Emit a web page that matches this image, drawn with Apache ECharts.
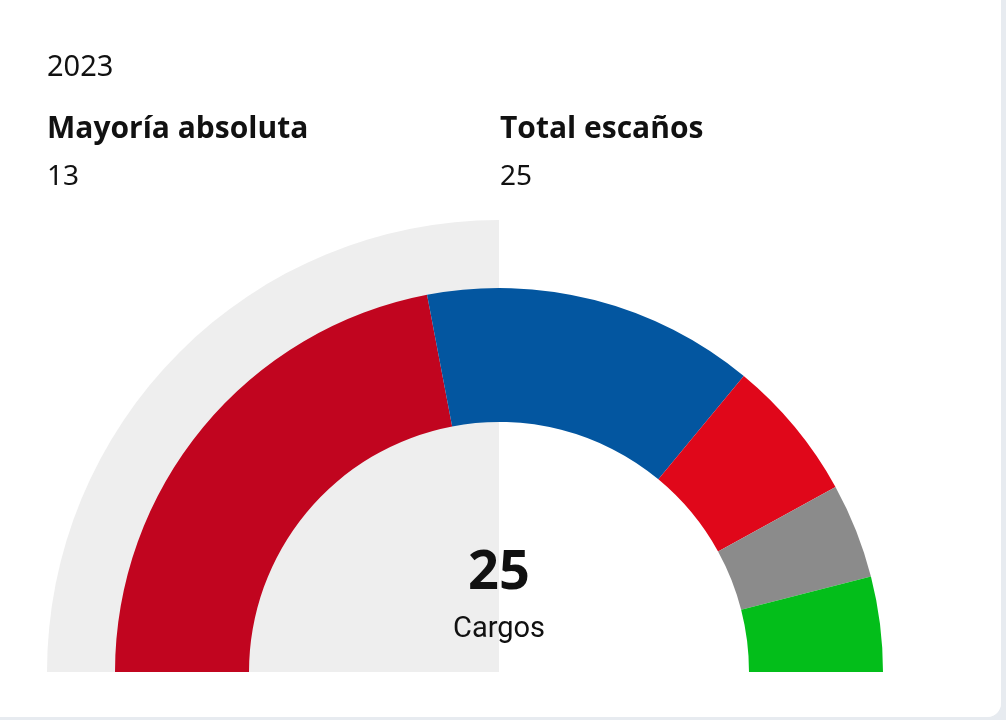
<!DOCTYPE html>
<html>
<head>
<meta charset="utf-8">
<script src="https://cdn.jsdelivr.net/npm/echarts@6/dist/echarts.min.js"></script>
<style>
html,body{margin:0;padding:0;background:#e7ebf0;}
#wrap{position:relative;width:1006px;height:720px;background:#e7ebf0;}
#chart{position:absolute;left:0;top:0;width:1001px;height:717px;background:#ffffff;border-radius:0 0 14px 0;overflow:hidden;}
</style>
</head>
<body>
<div id="wrap"><div id="chart"></div></div>
<script>
// Data
const year = '2023';
const parties = ['Partido 1', 'Partido 2', 'Partido 3', 'Partido 4', 'Partido 5'];
const seats = [11, 7, 3, 2, 2];
const partyColors = ['#c1051f', '#0356a0', '#e0071a', '#8b8b8b', '#03be1a'];
const majority = 13;
const totalSeats = 25;
const centerLabel = 'Cargos';

const chart = echarts.init(document.getElementById('chart'), null, {renderer: 'canvas'});

const cx = 499, cy = 672;

const option = {
  animation: false,
  backgroundColor: '#ffffff',
  series: [
    {
      type: 'pie',
      silent: true,
      center: [cx, cy],
      radius: [0, 452],
      startAngle: 180,
      endAngle: 90,
      clockwise: true,
      label: {show: false},
      labelLine: {show: false},
      itemStyle: {color: '#eeeeee'},
      data: [{name: 'mitad', value: 1}],
      z: 1
    },
    {
      type: 'pie',
      center: [cx, cy],
      radius: [250, 384],
      startAngle: 180,
      endAngle: 0,
      clockwise: true,
      minAngle: 0,
      label: {show: false},
      labelLine: {show: false},
      emphasis: {disabled: true},
      itemStyle: {borderWidth: 0},
      data: parties.map((p, i) => ({name: p, value: seats[i], itemStyle: {color: partyColors[i]}})),
      z: 2
    }
  ],
  graphic: [
    {type: 'text', x: 47, y: 68, z: 10, style: {text: year, font: '400 29px "Noto Sans"', fill: '#111', align: 'left', verticalAlign: 'middle'}},
    {type: 'text', x: 47, y: 129, z: 10, style: {text: 'Mayoría absoluta', font: '700 30px "Open Sans"', fill: '#111', align: 'left', verticalAlign: 'middle'}},
    {type: 'text', x: 47, y: 177, z: 10, style: {text: String(majority), font: '400 28px "Noto Sans"', fill: '#111', align: 'left', verticalAlign: 'middle'}},
    {type: 'text', x: 500, y: 129, z: 10, style: {text: 'Total escaños', font: '700 30px "Open Sans"', fill: '#111', align: 'left', verticalAlign: 'middle'}},
    {type: 'text', x: 500, y: 177, z: 10, style: {text: String(totalSeats), font: '400 28px "Noto Sans"', fill: '#111', align: 'left', verticalAlign: 'middle'}},
    {type: 'text', x: 499, y: 574, z: 10, style: {text: String(seats.reduce((a, b) => a + b, 0)), font: '700 54px "Noto Sans"', fill: '#111', align: 'center', verticalAlign: 'middle'}},
    {type: 'text', x: 499, y: 630, z: 10, style: {text: centerLabel, font: '400 29px Roboto', fill: '#111', align: 'center', verticalAlign: 'middle'}}
  ]
};
chart.setOption(option);
</script>
</body>
</html>
